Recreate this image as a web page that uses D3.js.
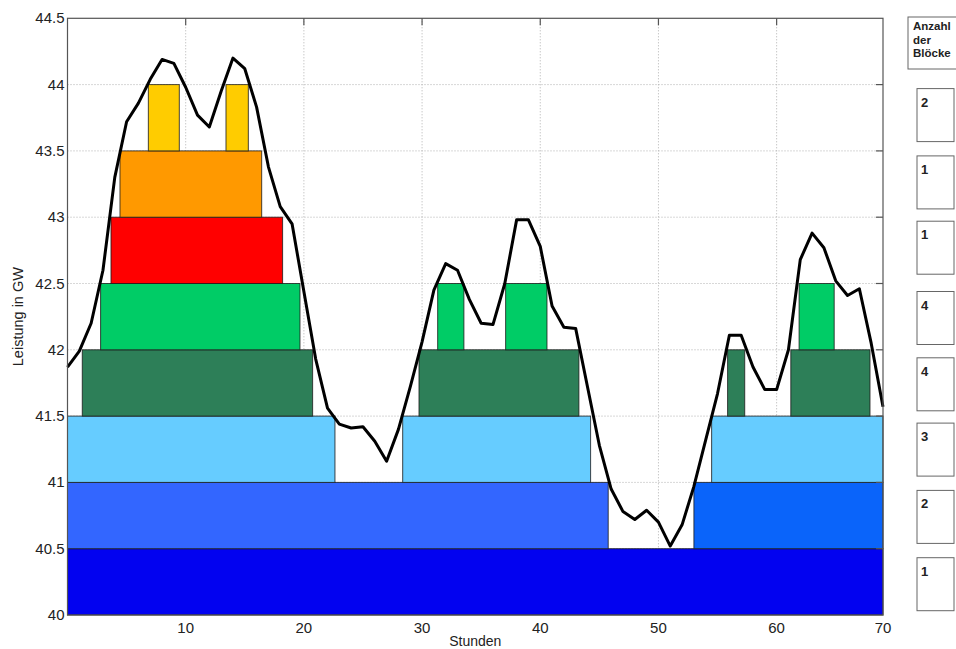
<!DOCTYPE html>
<html><head><meta charset="utf-8">
<script src="https://cdn.jsdelivr.net/npm/d3@7"></script>
<style>
body{margin:0;background:#fff;}
text{font-family:"Liberation Sans",Arial,Helvetica,sans-serif;}
</style>
</head><body>
<svg id="chart" width="956" height="649"></svg>
<script>
// ---- data ----
const load = [41.87,41.99,42.20,42.60,43.30,43.72,43.86,44.04,44.19,44.16,
              43.98,43.77,43.68,43.95,44.20,44.12,43.83,43.38,43.08,42.95,
              42.44,41.93,41.56,41.44,41.41,41.42,41.31,41.16,41.40,41.72,
              42.06,42.45,42.65,42.60,42.38,42.20,42.19,42.50,42.98,42.98,
              42.78,42.33,42.17,42.16,41.72,41.28,40.95,40.78,40.72,40.79,
              40.70,40.52,40.68,40.97,41.32,41.67,42.11,42.11,41.87,41.70,
              41.70,42.00,42.68,42.88,42.77,42.52,42.41,42.46,42.05,41.57];
const levels      = [1,2,3,4,5,6,7,8];
const levelLower  = [40,40.5,41,41.5,42,42.5,43,43.5];
const levelUpper  = [40.5,41,41.5,42,42.5,43,43.5,44];
const blockLevel  = [1, 2,2, 3,3,3, 4,4,4,4, 5,5,5,5, 6, 7, 8,8];
const blockStart  = [0, 0,53.0, 0,28.36,54.5, 1.25,29.74,55.85,61.2, 2.8,31.32,37.07,61.9, 3.68, 4.44, 6.84,13.41];
const blockEnd    = [69, 45.75,69, 22.63,44.26,69, 20.74,43.27,57.3,67.9, 19.67,33.54,40.57,64.87, 18.2, 16.43, 9.46,15.3];
const xTickValues = [10,20,30,40,50,60,69];
const xTickLabels = ["10","20","30","40","50","60","70"];
const yTickValues = [40,40.5,41,41.5,42,42.5,43,43.5,44,44.5];
const yTickLabels = ["40","40.5","41","41.5","42","42.5","43","43.5","44","44.5"];
const xTitle = "Stunden";
const yTitle = "Leistung in GW";
const legendTitle = ["Anzahl","der","Blöcke"];

// ---- styles ----
const blockColors = ["#0202f0","#3366ff","#0a64fa","#66ccff","#66ccff","#66ccff",
                     "#2d7f58","#2d7f58","#2d7f58","#2d7f58",
                     "#00cc66","#00cc66","#00cc66","#00cc66",
                     "#ff0000","#ff9900","#ffcc00","#ffcc00"];
const legendOffset = [9,8,7,8,8,4,5,4]; // px below each level's upper edge

const svg = d3.select("#chart");
const L = 67.5, R = 883, T = 18.3, B = 615;
const x = d3.scaleLinear().domain([0,69]).range([L,R]);
const y = d3.scaleLinear().domain([40,44.5]).range([B,T]);

// grid
const grid = svg.append("g");
grid.selectAll("line.gx").data(xTickValues.filter(v=>v<69)).join("line")
  .attr("x1",d=>x(d)).attr("x2",d=>x(d)).attr("y1",T).attr("y2",B)
  .attr("stroke","#b0b0b0").attr("stroke-width",1).attr("stroke-dasharray","1,2");
grid.selectAll("line.gy").data(yTickValues.filter(v=>v>40&&v<44.5)).join("line")
  .attr("x1",L).attr("x2",R).attr("y1",d=>y(d)).attr("y2",d=>y(d))
  .attr("stroke","#b0b0b0").attr("stroke-width",1).attr("stroke-dasharray","1,2");

// blocks
const blocks = blockLevel.map((lv,i)=>({lv, s:blockStart[i], e:blockEnd[i], c:blockColors[i]}));
svg.append("g").selectAll("rect").data(blocks).join("rect")
  .attr("x",d=>x(d.s)).attr("width",d=>x(d.e)-x(d.s))
  .attr("y",d=>y(levelUpper[d.lv-1])).attr("height",d=>y(levelLower[d.lv-1])-y(levelUpper[d.lv-1]))
  .attr("fill",d=>d.c).attr("stroke","#1a1a1a").attr("stroke-opacity",0.8).attr("stroke-width",1);

// load line
svg.append("path").datum(load)
  .attr("d", d3.line().x((d,i)=>x(i)).y(d=>y(d)))
  .attr("fill","none").attr("stroke","#000").attr("stroke-width",3).attr("stroke-linejoin","round");

// axes box + ticks
const ax = svg.append("g");
ax.append("rect").attr("x",L).attr("y",T).attr("width",R-L).attr("height",B-T)
  .attr("fill","none").attr("stroke","#555").attr("stroke-width",1.2);
ax.selectAll("line.tt").data(xTickValues.filter(v=>v<69)).join("line")
  .attr("x1",d=>x(d)).attr("x2",d=>x(d)).attr("y1",T).attr("y2",T+7)
  .attr("stroke","#555").attr("stroke-width",1.2);
ax.selectAll("line.tr").data(yTickValues.filter(v=>v>40&&v<44.5)).join("line")
  .attr("x1",R-7).attr("x2",R).attr("y1",d=>y(d)).attr("y2",d=>y(d))
  .attr("stroke","#555").attr("stroke-width",1.2);

// tick labels
ax.selectAll("text.xl").data(xTickValues).join("text")
  .attr("x",d=>x(d)).attr("y",B+18).attr("text-anchor","middle")
  .attr("font-size",15).attr("fill","#222").text((d,i)=>xTickLabels[i]);
ax.selectAll("text.yl").data(yTickValues).join("text")
  .attr("x",L-3).attr("y",d=>y(d)+5).attr("text-anchor","end")
  .attr("font-size",15).attr("fill","#222").text((d,i)=>yTickLabels[i]);

// titles
svg.append("text").attr("x",(L+R)/2).attr("y",646).attr("text-anchor","middle")
  .attr("font-size",14).attr("fill","#222").text(xTitle);
svg.append("text").attr("transform",`translate(23,${(T+B)/2}) rotate(-90)`)
  .attr("text-anchor","middle").attr("font-size",14.5).attr("fill","#222").text(yTitle);

// legend
const lg = svg.append("g");
lg.append("rect").attr("x",908).attr("y",17).attr("width",60).attr("height",52)
  .attr("fill","#fff").attr("stroke","#666").attr("stroke-width",1);
lg.selectAll("text.lt").data(legendTitle).join("text")
  .attr("x",913).attr("y",(d,i)=>30+i*13.5).attr("font-size",11.5).attr("font-weight","bold")
  .attr("fill","#222").text(d=>d);
const counts = levels.map(lv=>({lv, n: blockLevel.filter(b=>b===lv).length}));
const lgItems = lg.selectAll("g.li").data(counts).join("g")
  .attr("transform",d=>`translate(917,${y(levelUpper[d.lv-1])+legendOffset[d.lv-1]})`);
lgItems.append("rect").attr("x",0).attr("y",0).attr("width",37).attr("height",53)
  .attr("fill","#fff").attr("stroke","#666").attr("stroke-width",1);
lgItems.append("text").attr("x",4).attr("y",18).attr("font-size",13).attr("font-weight","bold")
  .attr("fill","#222").text(d=>d.n);
</script>
</body></html>
